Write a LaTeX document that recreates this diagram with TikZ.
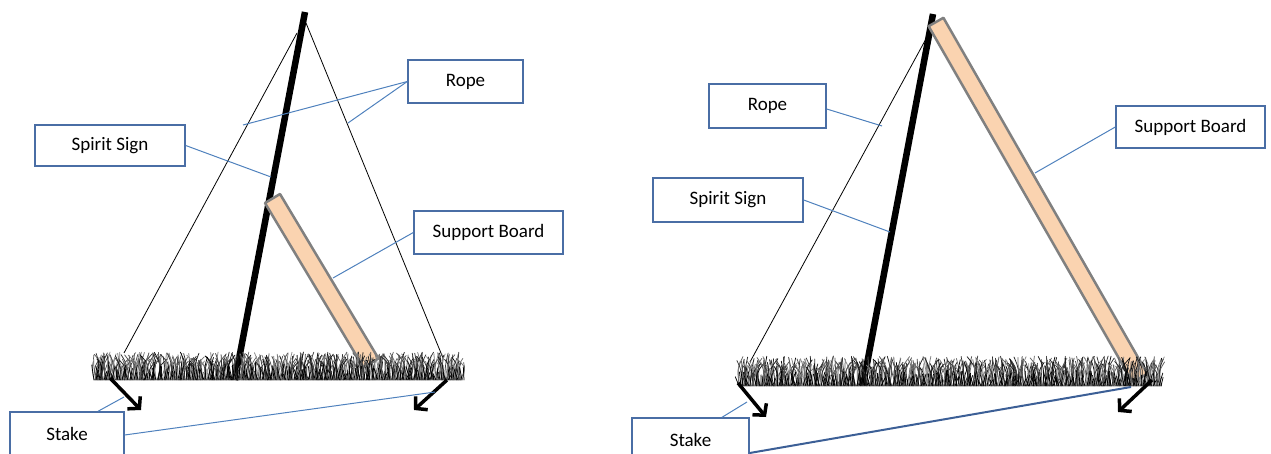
\documentclass[tikz,border=0pt]{standalone}
\usepackage{fontspec}
\setmainfont{Carlito}
\usetikzlibrary{arrows.meta,calc}
\definecolor{boxblue}{RGB}{74,110,165}
\definecolor{leadblue}{RGB}{79,129,189}
\definecolor{darkblue}{RGB}{60,95,150}
\definecolor{peach}{RGB}{250,211,176}
\definecolor{boardgray}{RGB}{128,128,128}
\begin{document}
\begin{tikzpicture}[x=1pt,y=-1pt,
  callout/.style={draw=boxblue, line width=1.4pt, fill=white, inner sep=0pt,
    font=\fontsize{19}{22}\selectfont, text=black},
  leader/.style={draw=leadblue, line width=1pt},
  pole/.style={line width=6.5pt, black},
  rope/.style={line width=0.8pt, black},
  blade/.style={line width=0.75pt, line cap=round},
  stakearrow/.style={line width=3.5pt, black, -{Straight Barb[length=8pt,width=18pt]}},
  board/.style={fill=peach, draw=boardgray, line width=2.5pt, line join=round}]
\useasboundingbox (0,0) rectangle (1271,454);
\clip (0,0) rectangle (1271,454);

% ---------------- left scene ----------------
\coordinate (L1top) at (297,33);
\coordinate (L1bot) at (124,353);
\coordinate (L2top) at (306,23);
\coordinate (L2bot) at (443,358);
\draw[rope] (L1top) -- (L1bot);
\draw[rope] (L2top) -- (L2bot);
\coordinate (P1top) at (305,12);
\coordinate (P1bot) at (235,380);
\draw[pole] (P1top) -- (P1bot);
\draw[board] (265,203) -- (280,194) -- (378.5,358.5) -- (363.5,367.5) -- cycle;

\pgfmathsetseed{7}
\foreach \i in {0,...,460}{
  \pgfmathsetmacro\xx{94+\i*0.8}
  \pgfmathsetmacro\dx{rand*6}
  \pgfmathsetmacro\hh{17+rnd*11}
  \pgfmathtruncatemacro\cc{45+rnd*55}
  \pgfmathsetmacro\cx{rand*5}
  \draw[blade, black!\cc] (\xx,380) .. controls (\xx+\cx,380-\hh*0.6) .. (\xx+\dx,380-\hh);
}
\foreach \i in {0,...,185}{
  \pgfmathsetmacro\xx{94+\i*2}
  \pgfmathsetmacro\dx{rand*4}
  \pgfmathsetmacro\hh{6+rnd*10}
  \draw[blade, black] (\xx,380) -- (\xx+\dx,380-\hh);
}

\coordinate (A1s) at (110,378); \coordinate (A1e) at (141,410);
\coordinate (A2s) at (447,380); \coordinate (A2e) at (414,410);
\draw[stakearrow] (A1s) -- (A1e);
\draw[stakearrow] (A2s) -- (A2e);

\node[callout, minimum width=115pt, minimum height=43pt] (rope1) at (465.5,81.5) {Rope};
\node[callout, minimum width=150pt, minimum height=41pt] (spirit1) at (110,145.5) {Spirit Sign};
\node[callout, minimum width=149pt, minimum height=43pt] (sb1) at (488.5,232.5) {Support Board};
\node[callout, minimum width=114pt, minimum height=43pt] (stake1) at (67,433.5) {Stake};

\coordinate (r1a) at (243,125);
\coordinate (r1b) at (348,123);
\coordinate (s1) at (271,177);
\coordinate (b1) at (333,278);
\coordinate (k1a) at (124,397);
\coordinate (k1b) at (435,392);
\draw[leader] (rope1.west) -- (r1a);
\draw[leader] (rope1.west) -- (r1b);
\draw[leader] (spirit1.east) -- (s1);
\draw[leader] (sb1.west) -- (b1);
\draw[leader] ([xshift=31pt]stake1.north) -- (k1a);
\draw[leader] ([yshift=-1.5pt]stake1.east) -- (k1b);

% ---------------- right scene ----------------
\coordinate (R1top) at (927,37);
\coordinate (R1bot) at (750,362);
\draw[rope] (R1top) -- (R1bot);
\coordinate (P2top) at (933,14);
\coordinate (P2bot) at (863,385);
\draw[pole] (P2top) -- (P2bot);
\draw[board] (928.6,26.2) -- (943.4,17.8) -- (1147.4,373.8) -- (1132.6,382.2) -- cycle;

\pgfmathsetseed{11}
\foreach \i in {0,...,528}{
  \pgfmathsetmacro\xx{739+\i*0.8}
  \pgfmathsetmacro\dx{rand*6}
  \pgfmathsetmacro\hh{18+rnd*12}
  \pgfmathtruncatemacro\cc{45+rnd*55}
  \pgfmathsetmacro\cx{rand*5}
  \draw[blade, black!\cc] (\xx,386) .. controls (\xx+\cx,386-\hh*0.6) .. (\xx+\dx,386-\hh);
}
\foreach \i in {0,...,211}{
  \pgfmathsetmacro\xx{739+\i*2}
  \pgfmathsetmacro\dx{rand*4}
  \pgfmathsetmacro\hh{6+rnd*10}
  \draw[blade, black] (\xx,386) -- (\xx+\dx,386-\hh);
}

\coordinate (A3s) at (738,383); \coordinate (A3e) at (766,417);
\coordinate (A4s) at (1152,380); \coordinate (A4e) at (1118,412);
\draw[stakearrow] (A3s) -- (A3e);
\draw[stakearrow] (A4s) -- (A4e);

\node[callout, minimum width=117pt, minimum height=44pt] (rope2) at (767.5,106) {Rope};
\node[callout, minimum width=150pt, minimum height=44pt] (spirit2) at (728,200) {Spirit Sign};
\node[callout, minimum width=149pt, minimum height=42pt] (sb2) at (1190.5,127) {Support Board};
\node[callout, minimum width=117pt, minimum height=43pt] (stake2) at (690.5,439.5) {Stake};

\coordinate (r2) at (882,126);
\coordinate (s2) at (890,232);
\coordinate (b2) at (1035,173);
\coordinate (k2a) at (747,402);
\coordinate (k2b) at (1131,387);
\draw[leader] ([yshift=-3pt]rope2.east) -- (r2);
\draw[leader] (spirit2.east) -- (s2);
\draw[leader] (sb2.west) -- (b2);
\draw[leader] ([xshift=31.5pt]stake2.north) -- (k2a);
\draw[leader, draw=darkblue, line width=2pt] ([yshift=-13.5pt]stake2.east) -- (k2b);
\end{tikzpicture}
\end{document}
